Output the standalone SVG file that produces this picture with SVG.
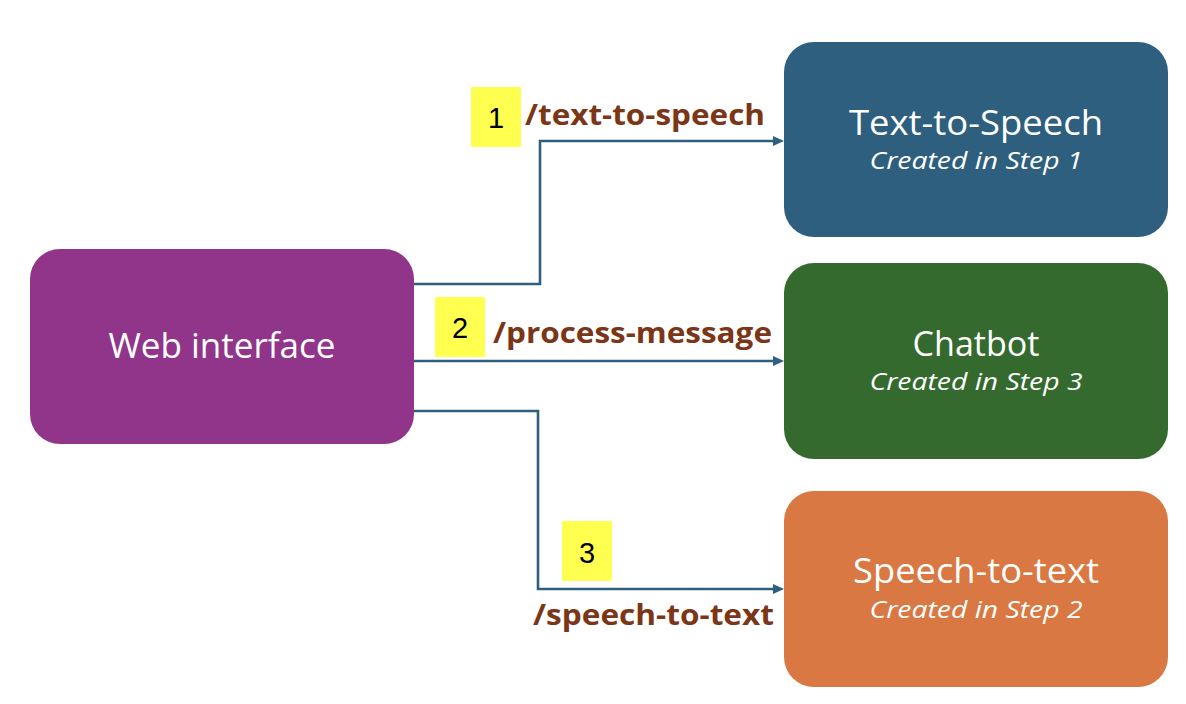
<svg xmlns="http://www.w3.org/2000/svg" width="1186" height="704" viewBox="0 0 1186 704">
<style>
.box{stroke:none}
.title{font-family:"Open Sans","Liberation Sans",sans-serif;font-size:35px;fill:#ffffff;text-anchor:middle}
.sub{font-family:"Open Sans","Liberation Sans",sans-serif;font-size:24px;font-style:italic;fill:#ffffff;text-anchor:middle}
.lbl{font-family:"Open Sans","Liberation Sans",sans-serif;font-size:28px;font-weight:bold;fill:#7b3617}
.num{font-family:"Liberation Sans",Arial,sans-serif;font-size:29px;fill:#000000;text-anchor:middle}
.badge{fill:#ffff50}
.conn{fill:none;stroke:#2e5f7f;stroke-width:2.6}
</style>
<defs>
<marker id="arr" viewBox="0 0 11 10" refX="0" refY="5" markerWidth="11" markerHeight="10" markerUnits="userSpaceOnUse" orient="auto">
<path d="M0,0 L11,5 L0,10 z" fill="#2e5f7f"/>
</marker>
</defs>
<rect width="1186" height="704" fill="#ffffff"/>
<g id="connectors">
<path class="conn" d="M414,284 H540 V141 H773" marker-end="url(#arr)"/>
<path class="conn" d="M414,361 H773" marker-end="url(#arr)"/>
<path class="conn" d="M414,411 H538 V589 H773" marker-end="url(#arr)"/>
</g>
<g id="web">
<rect class="box" x="30" y="249" width="384" height="195" rx="30" fill="#91358a"/>
<text class="title" x="222" y="358" textLength="227" lengthAdjust="spacingAndGlyphs">Web interface</text>
</g>
<g id="tts">
<rect class="box" x="784" y="42" width="384" height="195" rx="30" fill="#2e5f7f"/>
<text class="title" x="976" y="135" textLength="254" lengthAdjust="spacingAndGlyphs">Text-to-Speech</text>
<text class="sub" x="976" y="169" textLength="213" lengthAdjust="spacingAndGlyphs">Created in Step 1</text>
</g>
<g id="chatbot">
<rect class="box" x="784" y="263" width="384" height="196" rx="30" fill="#346a2e"/>
<text class="title" x="976" y="356" textLength="127" lengthAdjust="spacingAndGlyphs">Chatbot</text>
<text class="sub" x="976" y="390" textLength="213" lengthAdjust="spacingAndGlyphs">Created in Step 3</text>
</g>
<g id="stt">
<rect class="box" x="784" y="491" width="384" height="196" rx="30" fill="#d97842"/>
<text class="title" x="976" y="583" textLength="246" lengthAdjust="spacingAndGlyphs">Speech-to-text</text>
<text class="sub" x="976" y="618" textLength="213" lengthAdjust="spacingAndGlyphs">Created in Step 2</text>
</g>
<g id="label1">
<rect class="badge" x="471" y="87" width="50" height="60"/>
<text class="num" x="496" y="128">1</text>
<text class="lbl" x="525" y="125" textLength="240" lengthAdjust="spacingAndGlyphs">/text-to-speech</text>
</g>
<g id="label2">
<rect class="badge" x="435" y="297" width="50" height="60"/>
<text class="num" x="460" y="338">2</text>
<text class="lbl" x="493" y="343" textLength="279" lengthAdjust="spacingAndGlyphs">/process-message</text>
</g>
<g id="label3">
<rect class="badge" x="562" y="521" width="50" height="60"/>
<text class="num" x="587" y="563">3</text>
<text class="lbl" x="533" y="625" textLength="241" lengthAdjust="spacingAndGlyphs">/speech-to-text</text>
</g>
</svg>
